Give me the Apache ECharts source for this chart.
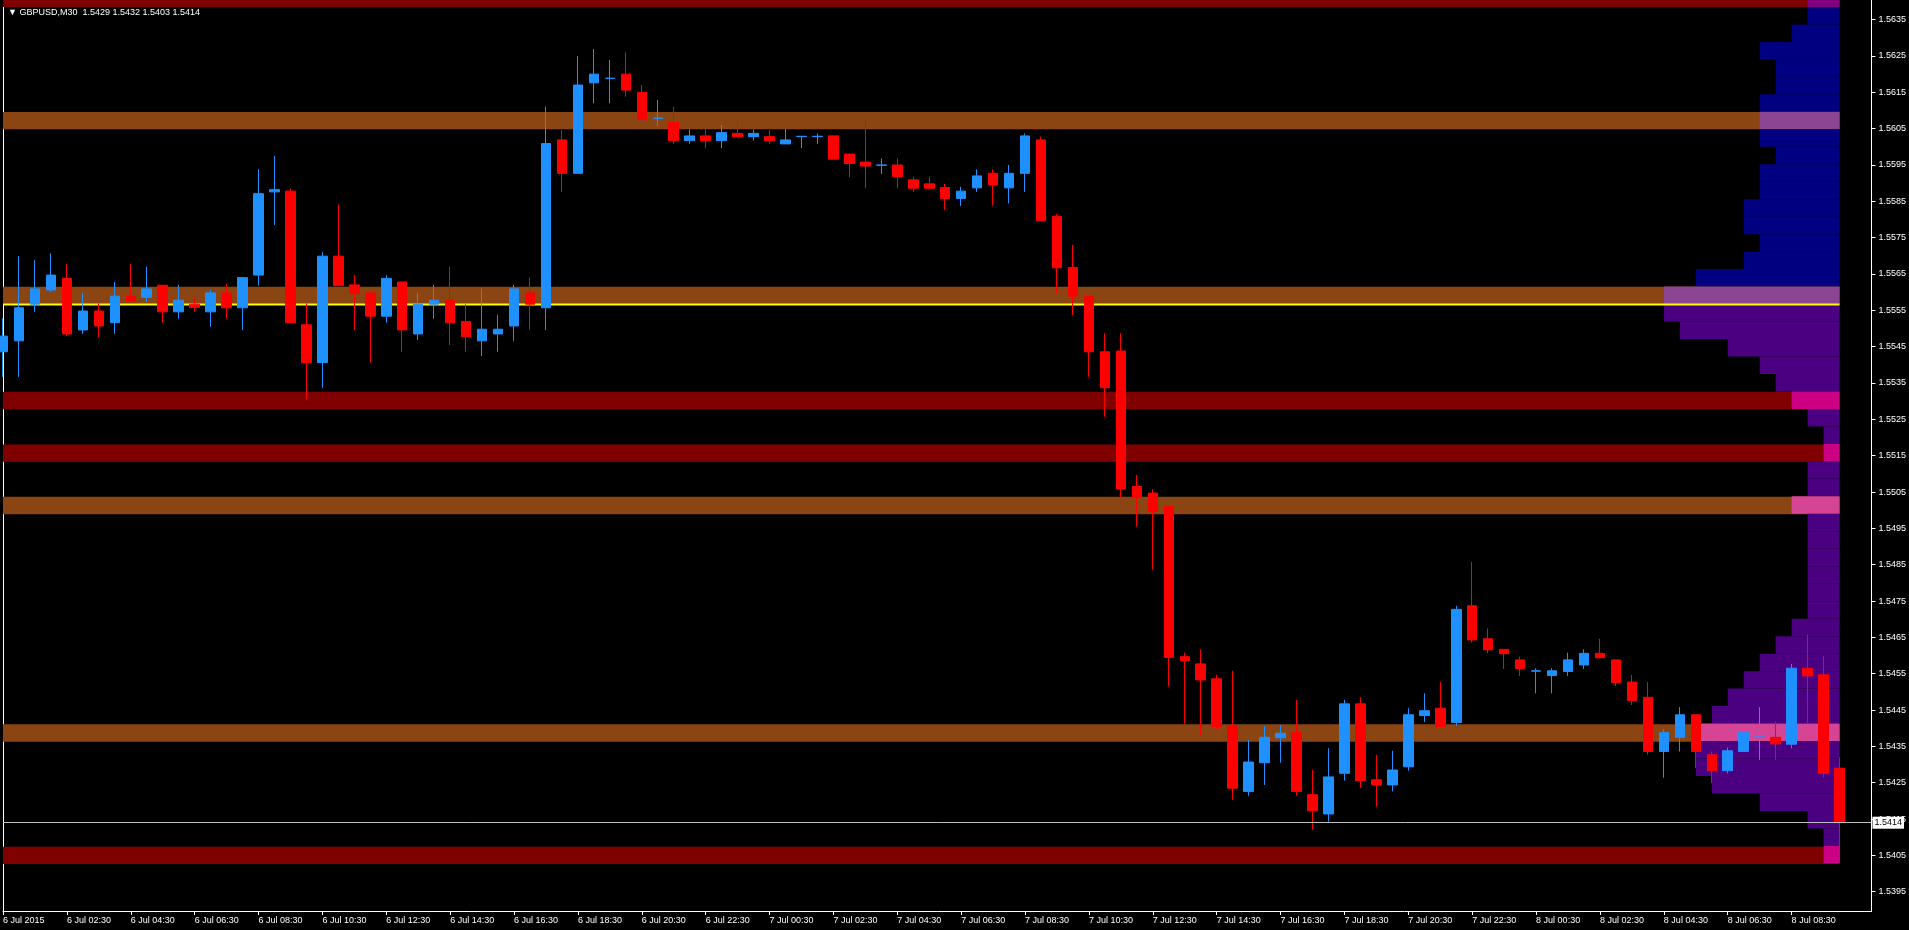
<!DOCTYPE html>
<html><head><meta charset="utf-8">
<script src="https://cdn.jsdelivr.net/npm/echarts@6/dist/echarts.min.js"></script>
<style>html,body{margin:0;padding:0;background:#000;}#c{width:1909px;height:930px;}</style>
</head><body><div id="c"></div><script>
// ---------------- DATA ----------------
const symbolName = 'GBPUSD,M30';
const tickLabels = ['6 Jul 2015','6 Jul 02:30','6 Jul 04:30','6 Jul 06:30','6 Jul 08:30','6 Jul 10:30','6 Jul 12:30','6 Jul 14:30','6 Jul 16:30','6 Jul 18:30','6 Jul 20:30','6 Jul 22:30','7 Jul 00:30','7 Jul 02:30','7 Jul 04:30','7 Jul 06:30','7 Jul 08:30','7 Jul 10:30','7 Jul 12:30','7 Jul 14:30','7 Jul 16:30','7 Jul 18:30','7 Jul 20:30','7 Jul 22:30','8 Jul 00:30','8 Jul 02:30','8 Jul 04:30','8 Jul 06:30','8 Jul 08:30'];
const openP = [1.55436,1.55466,1.55567,1.55606,1.55638,1.55496,1.55548,1.55516,1.55589,1.55586,
1.55619,1.55546,1.55567,1.55546,1.55598,1.55557,1.55647,1.55876,1.55878,1.55510,
1.55406,1.55699,1.55620,1.55598,1.55534,1.55628,1.55485,1.55567,1.55578,1.55519,
1.55466,1.55485,1.55507,1.55598,1.55557,1.56019,1.55927,1.56176,1.56188,1.56200,
1.56150,1.56078,1.56067,1.56017,1.56030,1.56017,1.56037,1.56028,1.56028,1.56008,
1.56028,1.56028,1.56030,1.55980,1.55958,1.55949,1.55950,1.55909,1.55898,1.55888,
1.55858,1.55887,1.55927,1.55887,1.55927,1.56019,1.55809,1.55668,1.55589,1.55436,
1.55438,1.55065,1.55047,1.55010,1.54597,1.54577,1.54536,1.54407,1.54226,1.54305,
1.54374,1.54388,1.54217,1.54164,1.54276,1.54467,1.54258,1.54244,1.54294,1.54435,
1.54455,1.54416,1.54737,1.54646,1.54617,1.54588,1.54557,1.54545,1.54556,1.54574,
1.54606,1.54588,1.54527,1.54485,1.54336,1.54375,1.54437,1.54327,1.54283,1.54336,
1.54375,1.54375,1.54356,1.54565,1.54547,1.54290];
const closeP = [1.55479,1.55557,1.55609,1.55647,1.55485,1.55548,1.55507,1.55589,1.55576,1.55609,
1.55546,1.55578,1.55558,1.55598,1.55557,1.55640,1.55871,1.55882,1.55516,1.55406,
1.55699,1.55618,1.55597,1.55534,1.55638,1.55496,1.55567,1.55578,1.55516,1.55477,
1.55498,1.55498,1.55609,1.55567,1.56009,1.55927,1.56170,1.56200,1.56189,1.56156,
1.56076,1.56079,1.56017,1.56030,1.56017,1.56039,1.56028,1.56037,1.56017,1.56019,
1.56029,1.56029,1.55966,1.55954,1.55947,1.55950,1.55918,1.55886,1.55886,1.55858,
1.55878,1.55920,1.55895,1.55927,1.56030,1.55797,1.55667,1.55589,1.55436,1.55337,
1.55058,1.55035,1.54996,1.54595,1.54586,1.54533,1.54405,1.54235,1.54307,1.54375,
1.54386,1.54226,1.54173,1.54266,1.54467,1.54256,1.54244,1.54285,1.54437,1.54448,
1.54405,1.54727,1.54643,1.54616,1.54605,1.54564,1.54558,1.54558,1.54588,1.54606,
1.54594,1.54526,1.54476,1.54336,1.54388,1.54437,1.54336,1.54283,1.54338,1.54389,
1.54376,1.54357,1.54565,1.54544,1.54276,1.54140];
const lowP = [1.55367,1.55367,1.55546,1.55600,1.55480,1.55485,1.55476,1.55485,1.55574,1.55574,
1.55516,1.55527,1.55546,1.55505,1.55527,1.55496,1.55618,1.55785,1.55516,1.55305,
1.55337,1.55618,1.55496,1.55406,1.55516,1.55436,1.55468,1.55527,1.55455,1.55436,
1.55424,1.55436,1.55466,1.55496,1.55496,1.55876,1.55927,1.56120,1.56120,1.56138,
1.56076,1.56057,1.56008,1.56008,1.55996,1.55996,1.56028,1.56017,1.56008,1.56008,
1.55996,1.56008,1.55966,1.55916,1.55886,1.55925,1.55886,1.55876,1.55886,1.55826,
1.55837,1.55876,1.55838,1.55844,1.55876,1.55797,1.55597,1.55537,1.55367,1.55257,
1.55033,1.54955,1.54836,1.54515,1.54412,1.54382,1.54395,1.54203,1.54214,1.54244,
1.54305,1.54214,1.54120,1.54143,1.54256,1.54235,1.54184,1.54226,1.54283,1.54417,
1.54403,1.54406,1.54636,1.54606,1.54563,1.54544,1.54496,1.54496,1.54544,1.54563,
1.54594,1.54516,1.54464,1.54327,1.54264,1.54336,1.54290,1.54249,1.54276,1.54336,
1.54313,1.54313,1.54345,1.54414,1.54265,1.54030];
const highP = [1.55528,1.55699,1.55688,1.55707,1.55677,1.55598,1.55569,1.55628,1.55677,1.55670,
1.55619,1.55620,1.55583,1.55606,1.55622,1.55640,1.55938,1.55975,1.55885,1.55569,
1.55710,1.55841,1.55647,1.55598,1.55647,1.55628,1.55597,1.55620,1.55670,1.55567,
1.55610,1.55537,1.55620,1.55640,1.56110,1.56046,1.56250,1.56269,1.56239,1.56260,
1.56170,1.56129,1.56110,1.56048,1.56048,1.56060,1.56069,1.56048,1.56046,1.56048,
1.56029,1.56037,1.56030,1.55980,1.56078,1.55968,1.55968,1.55918,1.55918,1.55898,
1.55890,1.55938,1.55938,1.55950,1.56037,1.56028,1.55815,1.55730,1.55589,1.55487,
1.55487,1.55097,1.55058,1.55010,1.54608,1.54617,1.54547,1.54558,1.54368,1.54406,
1.54409,1.54478,1.54285,1.54345,1.54478,1.54485,1.54327,1.54338,1.54455,1.54496,
1.54527,1.54737,1.54858,1.54675,1.54617,1.54597,1.54565,1.54565,1.54608,1.54617,
1.54646,1.54588,1.54547,1.54527,1.54397,1.54458,1.54437,1.54336,1.54347,1.54395,
1.54458,1.54418,1.54577,1.54657,1.54599,1.54320];
const yTicks = [1.5395,1.5405,1.5415,1.5425,1.5435,1.5445,1.5455,1.5465,1.5475,1.5485,1.5495,1.5505,1.5515,1.5525,1.5535,1.5545,1.5555,1.5565,1.5575,1.5585,1.5595,1.5605,1.5615,1.5625,1.5635];
const yMin = 1.53897, yMax = 1.56404;
const pocLevel = 1.55566;
// zones (support / resistance bands)
const bandLow  = [1.56385,1.56048,1.55566,1.55278,1.55133,1.54989,1.54363,1.54026];
const bandHigh = [1.56433,1.56096,1.55615,1.55326,1.55181,1.55037,1.54411,1.54074];
const bandKind = ['maroon','brown','brown','maroon','maroon','brown','brown','maroon'];
// market profile (TPO counts per price bin, from top)
const profileTop = 1.56433, profileStep = 0.000481;
const profileCounts = [2,2,3,5,4,4,5,5,5,4,5,5,6,6,5,6,9,11,11,10,7,5,4,3,2,1,1,2,2,3,2,2,2,2,2,2,3,4,5,6,7,8,9,9,9,8,5,2,1,1];

// ---------------- CHART ----------------
const FONT = 'Liberation Sans, Arial, sans-serif';
const COL = {maroon:'#800000', brown:'#8B4513', navy:'#000080', indigo:'#4B0082'};
function hex2rgb(h){return [1,3,5].map(i=>parseInt(h.substr(i,2),16));}
function addCol(a,b){const x=hex2rgb(a),y=hex2rgb(b);return 'rgb('+x.map((v,i)=>Math.min(255,v+y[i])).join(',')+')';}

const last = openP.length - 1;
const nCat = openP.length + 2;
const categories = [];
for (let i = 0; i < nCat; i++) categories.push(i % 4 === 0 && i / 4 < tickLabels.length ? tickLabels[i / 4] : '');
const candles = openP.map((o, i) => [o, closeP[i], lowP[i], highP[i]]);

const bandData = bandLow.map((l, i) => [last, l, bandHigh[i]]);
const profData = profileCounts.map((c, k) => [last - c, profileTop - profileStep * (k + 1), profileTop - profileStep * k]);

function profColor(k) {
  const lo = profileTop - profileStep * (k + 1), hi = profileTop - profileStep * k;
  const base = (lo + hi) / 2 > pocLevel ? COL.navy : COL.indigo;
  for (let i = 0; i < bandLow.length; i++) {
    const m = (bandLow[i] + bandHigh[i]) / 2;
    if (m > lo && m < hi) return addCol(base, COL[bandKind[i]]);
  }
  return base;
}

const title = '\u25BC ' + symbolName + '  ' + [openP[last], highP[last], lowP[last], closeP[last]].map(v => v.toFixed(4)).join(' ');
const showIdx = (idx, val) => val !== '';

const chart = echarts.init(document.getElementById('c'), null, {renderer: 'canvas'});
chart.setOption({
  backgroundColor: '#000000',
  animation: false,
  title: {text: title, left: 3, top: 3, textStyle: {color: '#ffffff', fontSize: 9, fontWeight: 'normal', fontFamily: FONT}},
  grid: {left: 1, right: 34, top: 0, bottom: 19, containLabel: false},
  xAxis: {
    type: 'category', data: categories, boundaryGap: false,
    axisLine: {show: true, lineStyle: {color: '#ffffff', width: 1}},
    axisTick: {show: true, interval: showIdx, length: 4, lineStyle: {color: '#ffffff'}},
    axisLabel: {interval: showIdx, align: 'left', color: '#ffffff', fontSize: 9, fontFamily: FONT, margin: 5},
    splitLine: {show: false}
  },
  yAxis: [{
    type: 'value', position: 'right', min: yMin, max: yMax, scale: true,
    axisLine: {show: true, lineStyle: {color: '#ffffff', width: 1}},
    axisTick: {show: true, length: 4, customValues: yTicks, lineStyle: {color: '#ffffff'}},
    axisLabel: {customValues: yTicks, formatter: v => v.toFixed(4), color: '#ffffff', fontSize: 9, fontFamily: FONT, margin: 7},
    splitLine: {show: false}
  }, {
    type: 'value', position: 'left', min: yMin, max: yMax, scale: true,
    axisLine: {show: true, lineStyle: {color: '#ffffff', width: 1}},
    axisTick: {show: false}, axisLabel: {show: false}, splitLine: {show: false}
  }],
  series: [
    {
      name: 'zones', type: 'custom', z: 1, silent: true, clip: true,
      data: bandData, encode: {x: 0, y: [1, 2]},
      renderItem: function (params, api) {
        const i = params.dataIndex;
        const p1 = api.coord([api.value(0), api.value(2)]);
        const p2 = api.coord([api.value(0), api.value(1)]);
        const left = params.coordSys.x;
        return {type: 'rect', shape: {x: left, y: p1[1], width: p1[0] - left, height: p2[1] - p1[1]},
          style: {fill: COL[bandKind[i]]}};
      }
    },
    {
      name: 'profile', type: 'custom', z: 2, silent: true, clip: true,
      data: profData, encode: {x: 0, y: [1, 2]},
      renderItem: function (params, api) {
        const k = params.dataIndex;
        const pa = api.coord([api.value(0), api.value(2)]);
        const pb = api.coord([last, api.value(1)]);
        return {type: 'rect', shape: {x: pa[0], y: pa[1], width: pb[0] - pa[0], height: pb[1] - pa[1]},
          style: {fill: profColor(k)}};
      }
    },
    {
      name: 'poc', type: 'line', z: 3, silent: true, symbol: 'none',
      data: [[0, pocLevel], [last, pocLevel]],
      lineStyle: {color: '#FFFF00', width: 2}
    },
    {
      name: symbolName, type: 'candlestick', z: 4, barWidth: 10,
      data: candles,
      itemStyle: {color: '#1E90FF', color0: '#FF0000', borderColor: '#1E90FF', borderColor0: '#FF0000', borderColorDoji: '#1E90FF', borderWidth: 1},
      markLine: {
        silent: true, symbol: ['none', 'none'], animation: false, precision: 4,
        lineStyle: {color: '#C0C0C0', width: 1, type: 'solid'},
        label: {show: true, position: 'end', distance: 1, formatter: p => Number(p.value).toFixed(4), color: '#000000', backgroundColor: '#ffffff', padding: [2, 2, 1, 2], fontSize: 9, fontFamily: FONT},
        data: [{yAxis: closeP[last]}]
      }
    }
  ]
});
</script></body></html>
